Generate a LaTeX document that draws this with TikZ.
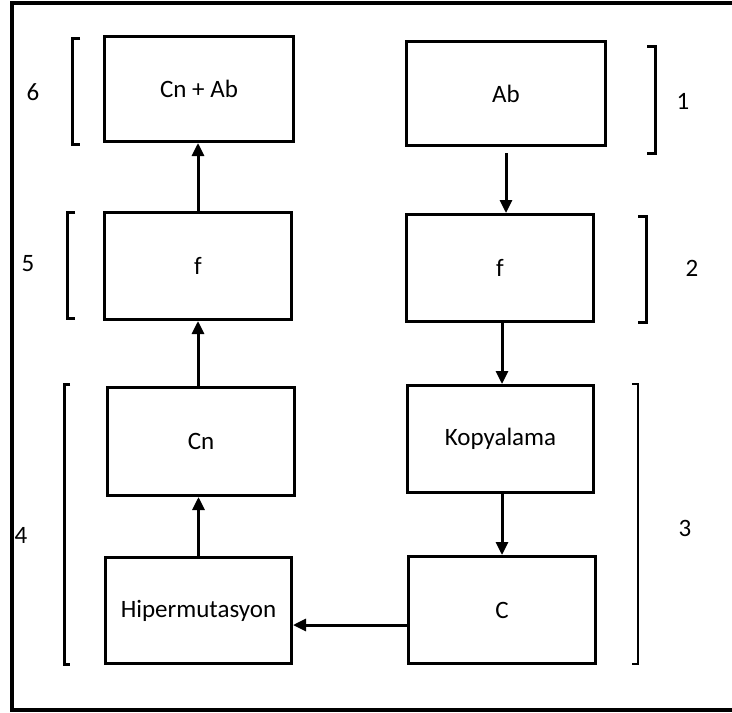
\documentclass[tikz,border=0pt]{standalone}
\usepackage{fontspec}
\setmainfont{Carlito}
\usetikzlibrary{arrows.meta}
\tikzset{
  box/.style={draw, line width=3pt, rectangle, inner sep=0pt, font=\fontsize{25}{30}\selectfont},
  arr/.style={line width=3pt, -{Triangle[length=13pt,width=12pt]}},
  brk/.style={line width=3pt, line join=miter},
  num/.style={font=\fontsize{25}{30}\selectfont, inner sep=0pt}
}
\begin{document}
\begin{tikzpicture}[x=1pt,y=-1pt]
\useasboundingbox (0,0) rectangle (732,713);
% frame (right side lies beyond the picture edge)
\draw[line width=4pt] (733,3) -- (12,3) -- (12,710) -- (733,710);
% boxes
\node[box, minimum width=189pt, minimum height=105pt] (A6) at (199,89) {Cn + Ab};
\node[box, minimum width=199pt, minimum height=104pt] (A1) at (506,93.5) {Ab};
\node[box, minimum width=187pt, minimum height=107pt] (A2) at (500,268) {f};
\node[box, minimum width=187pt, minimum height=107pt] (A5) at (198,266) {f};
\node[box, minimum width=187pt, minimum height=108pt] (A4a) at (201,441.5) {Cn};
\node[box, minimum width=186pt, minimum height=106pt] (A4b) at (198.5,610.5) {Hipermutasyon};
\node[box, minimum width=186pt, minimum height=107pt] (A3a) at (500.5,439) {Kopyalama};
\node[box, minimum width=187pt, minimum height=107pt] (A3b) at (502,610) {C};
% arrows
\draw[arr, shorten <=6pt] (A1.south) -- (A1.south |- A2.north);
\draw[arr] ([xshift=2pt]A2.south) -- ([xshift=2pt]A2.south |- A3a.north);
\draw[arr] ([xshift=1.5pt]A3a.south) -- ([xshift=1.5pt]A3a.south |- A3b.north);
\draw[arr] ([yshift=-15pt]A3b.west) -- ([yshift=-15pt]A3b.west -| A4b.east);
\draw[arr] (A4b.north) -- (A4b.north |- A4a.south);
\draw[arr] ([xshift=-3pt]A4a.north) -- ([xshift=-3pt]A4a.north |- A5.south);
\draw[arr] (A5.north) -- (A5.north |- A6.south);
% brackets
\draw[brk] (80,38) -- (72,38) -- (72,144) -- (80,144);
\draw[brk] (75,212) -- (67,212) -- (67,318) -- (75,318);
\draw[brk] (70,384) -- (64,384) -- (64,664) -- (70,664);
\draw[brk] (647,46) -- (655,46) -- (655,153) -- (647,153);
\draw[brk] (638,216) -- (646,216) -- (646,322) -- (638,322);
\draw[line width=2.5pt] (632,384) -- (638,384) -- (638,664) -- (632,664);
% labels
\node[num] (n6) at (33,92) {6};
\node[num] (n5) at (28,264) {5};
\node[num] (n4) at (21,535) {4};
\node[num] (n1) at (683,101) {1};
\node[num] (n2) at (692,268) {2};
\node[num] (n3) at (685,528) {3};
\end{tikzpicture}
\end{document}
